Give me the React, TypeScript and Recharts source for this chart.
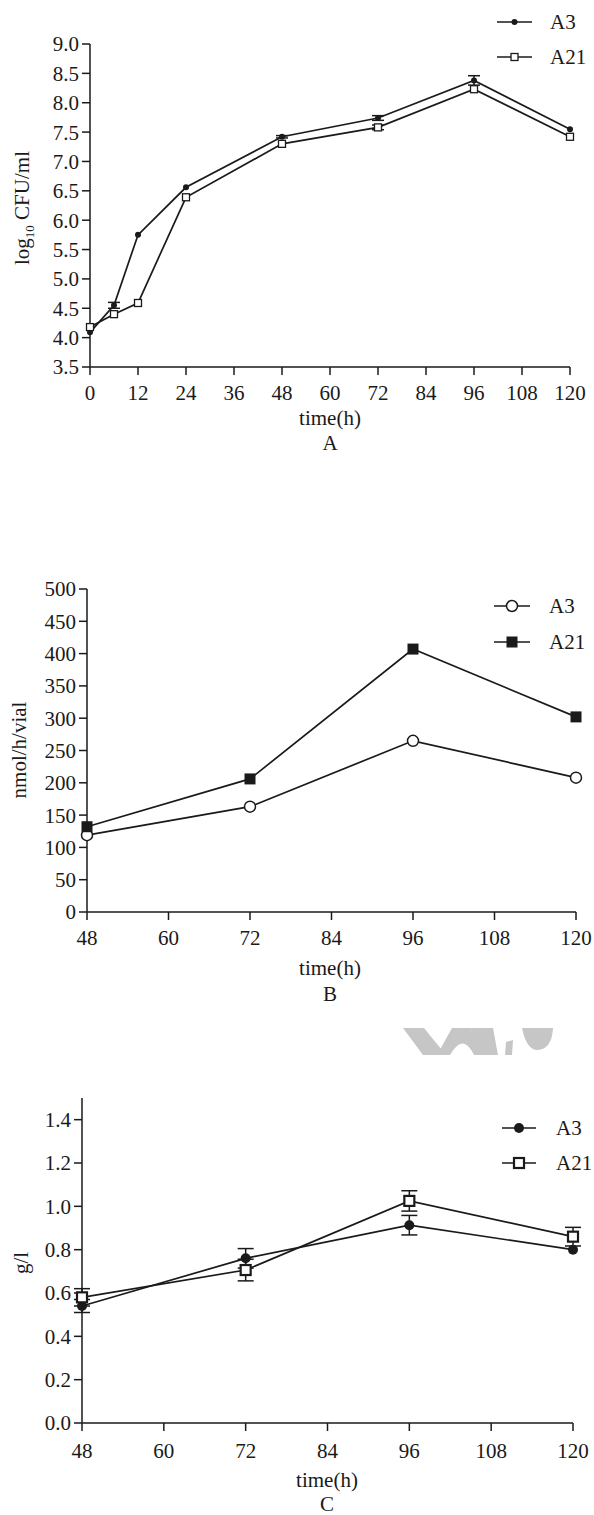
import React from 'react';
import { LineChart, Line, XAxis, YAxis, ErrorBar, Label } from 'recharts';

const FONT = '"Liberation Serif", "Times New Roman", serif';
const INK = '#1a1a1a';
const FS = 21;

// ---------- Chart A data ----------
const timeA = [0, 6, 12, 24, 48, 72, 96, 120];
const a3A = [4.09, 4.55, 5.75, 6.56, 7.42, 7.74, 8.38, 7.55];
const a3AErr = [0, 0.05, 0, 0, 0.02, 0.04, 0.08, 0];
const a21A = [4.18, 4.4, 4.59, 6.39, 7.3, 7.58, 8.23, 7.42];
const a21AErr = [0, 0, 0, 0, 0, 0.04, 0, 0];
const ticksXA = [0, 12, 24, 36, 48, 60, 72, 84, 96, 108, 120];
const ticksYA = [3.5, 4.0, 4.5, 5.0, 5.5, 6.0, 6.5, 7.0, 7.5, 8.0, 8.5, 9.0];

// ---------- Chart B data ----------
const timeB = [48, 72, 96, 120];
const a3B = [119, 163, 265, 208];
const a21B = [132, 206, 407, 302];
const ticksXB = [48, 60, 72, 84, 96, 108, 120];
const ticksYB = [0, 50, 100, 150, 200, 250, 300, 350, 400, 450, 500];

// ---------- Chart C data ----------
const timeC = [48, 72, 96, 120];
const a3C = [0.54, 0.76, 0.913, 0.8];
const a3CErr = [0.03, 0.045, 0.045, 0];
const a21C = [0.58, 0.706, 1.025, 0.86];
const a21CErr = [0.04, 0.05, 0.047, 0.043];
const ticksXC = [48, 60, 72, 84, 96, 108, 120];
const ticksYC = [0, 0.2, 0.4, 0.6, 0.8, 1.0, 1.2, 1.4];

const seriesNames = ['A3', 'A21'];

const dataA = timeA.map((t, i) => ({ t, a3: a3A[i], a3e: a3AErr[i], a21: a21A[i], a21e: a21AErr[i] }));
const dataB = timeB.map((t, i) => ({ t, a3: a3B[i], a21: a21B[i] }));
const dataC = timeC.map((t, i) => ({ t, a3: a3C[i], a3e: a3CErr[i], a21: a21C[i], a21e: a21CErr[i] }));

type Shape = 'dotS' | 'sqS' | 'circO' | 'sqF' | 'dotF' | 'sqO';

const drawShape = (shape: Shape, cx: number, cy: number) => {
  switch (shape) {
    case 'dotS':
      return <circle cx={cx} cy={cy} r={3} fill={INK} />;
    case 'sqS':
      return <rect x={cx - 3.5} y={cy - 3.5} width={7} height={7} fill="#fff" stroke={INK} strokeWidth={1.3} />;
    case 'circO':
      return <circle cx={cx} cy={cy} r={5.5} fill="#fff" stroke={INK} strokeWidth={1.5} />;
    case 'sqF':
      return <rect x={cx - 5.5} y={cy - 5.5} width={11} height={11} fill={INK} />;
    case 'dotF':
      return <circle cx={cx} cy={cy} r={5} fill={INK} />;
    case 'sqO':
      return <rect x={cx - 5} y={cy - 5} width={10} height={10} fill="#fff" stroke={INK} strokeWidth={2.2} />;
  }
  return null;
};

const dotRenderer = (shape: Shape) => (props: any) => {
  const { cx, cy, index } = props;
  if (cx == null || cy == null) return <g key={`${shape}-${index}`} />;
  return <g key={`${shape}-${index}`}>{drawShape(shape, cx, cy)}</g>;
};

const txt = { fontFamily: FONT, fontSize: FS, fill: INK };

type Decor = {
  axisY: number;
  cx: number;
  letter: string;
  d1: number;
  d2: number;
  legX: number;
  legY: number;
  legGap: number;
  legLen: number;
  legText: number;
  s1: Shape;
  s2: Shape;
};

const decorContent = (d: Decor) => () => (
  <g>
    <text x={d.cx} y={d.axisY + d.d1} textAnchor="middle" dy="0.35em" {...txt}>
      time(h)
    </text>
    <text x={d.cx} y={d.axisY + d.d2} textAnchor="middle" dy="0.35em" {...txt}>
      {d.letter}
    </text>
    {[d.s1, d.s2].map((s, i) => {
      const y = d.legY + i * d.legGap;
      return (
        <g key={seriesNames[i]}>
          <line x1={d.legX} x2={d.legX + d.legLen} y1={y} y2={y} stroke={INK} strokeWidth={1.5} />
          {drawShape(s, d.legX + d.legLen / 2, y)}
          <text x={d.legText} y={y} dy="0.35em" {...txt}>
            {seriesNames[i]}
          </text>
        </g>
      );
    })}
  </g>
);

const tickStyle = { fontSize: FS, fontFamily: FONT, fill: INK };
const axisLine = { stroke: INK, strokeWidth: 1.5 };
const tickLine = { stroke: INK, strokeWidth: 1.5 };

const ChartA = () => (
  <LineChart width={594} height={480} data={dataA} margin={{ top: 44, right: 24, left: 30, bottom: 83 }}>
    <XAxis
      dataKey="t"
      type="number"
      domain={[0, 120]}
      ticks={ticksXA}
      interval={0}
      tick={tickStyle}
      tickSize={8}
      tickMargin={10}
      axisLine={axisLine}
      tickLine={tickLine}
      height={30}
    >
      <Label
        content={decorContent({
          axisY: 367, cx: 330, letter: 'A', d1: 51, d2: 76,
          legX: 497, legY: 22, legGap: 35, legLen: 35, legText: 550, s1: 'dotS', s2: 'sqS',
        })}
      />
    </XAxis>
    <YAxis
      type="number"
      domain={[3.5, 9.0]}
      ticks={ticksYA}
      interval={0}
      tickFormatter={(v: number) => v.toFixed(1)}
      tick={tickStyle}
      tickSize={8}
      tickMargin={3}
      axisLine={axisLine}
      tickLine={tickLine}
      width={60}
    >
      <Label
        content={() => (
          <text x={22} y={208} transform="rotate(-90 22 208)" textAnchor="middle" dy="0.35em" {...txt}>
            log
            <tspan fontSize={13} dy="5">10</tspan>
            <tspan dy="-5"> CFU/ml</tspan>
          </text>
        )}
      />
    </YAxis>
    <Line dataKey="a3" stroke={INK} strokeWidth={1.7} isAnimationActive={false} dot={dotRenderer('dotS')} activeDot={false}>
      <ErrorBar dataKey="a3e" width={6} stroke={INK} strokeWidth={1.5} direction="y" />
    </Line>
    <Line dataKey="a21" stroke={INK} strokeWidth={1.7} isAnimationActive={false} dot={dotRenderer('sqS')} activeDot={false}>
      <ErrorBar dataKey="a21e" width={6} stroke={INK} strokeWidth={1.5} direction="y" />
    </Line>
  </LineChart>
);

const ChartB = () => (
  <LineChart width={594} height={540} data={dataB} margin={{ top: 109, right: 18, left: 27, bottom: 78 }}>
    <XAxis
      dataKey="t"
      type="number"
      domain={[48, 120]}
      ticks={ticksXB}
      interval={0}
      tick={tickStyle}
      tickSize={8}
      tickMargin={10}
      axisLine={axisLine}
      tickLine={tickLine}
      height={30}
    >
      <Label
        content={decorContent({
          axisY: 432, cx: 330, letter: 'B', d1: 56, d2: 82,
          legX: 494, legY: 126, legGap: 36, legLen: 36, legText: 549, s1: 'circO', s2: 'sqF',
        })}
      />
    </XAxis>
    <YAxis
      type="number"
      domain={[0, 500]}
      ticks={ticksYB}
      interval={0}
      tick={tickStyle}
      tickSize={8}
      tickMargin={3}
      axisLine={axisLine}
      tickLine={tickLine}
      width={60}
    >
      <Label
        content={() => (
          <text x={19} y={270} transform="rotate(-90 19 270)" textAnchor="middle" dy="0.35em" {...txt}>
            nmol/h/vial
          </text>
        )}
      />
    </YAxis>
    <Line dataKey="a3" stroke={INK} strokeWidth={1.7} isAnimationActive={false} dot={dotRenderer('circO')} activeDot={false} />
    <Line dataKey="a21" stroke={INK} strokeWidth={1.7} isAnimationActive={false} dot={dotRenderer('sqF')} activeDot={false} />
  </LineChart>
);

const ChartC = () => (
  <LineChart width={594} height={515} data={dataC} margin={{ top: 98, right: 21, left: 22, bottom: 62 }}>
    <XAxis
      dataKey="t"
      type="number"
      domain={[48, 120]}
      ticks={ticksXC}
      interval={0}
      tick={tickStyle}
      tickSize={8}
      tickMargin={12}
      axisLine={axisLine}
      tickLine={tickLine}
      height={30}
    >
      <Label
        content={decorContent({
          axisY: 423, cx: 327, letter: 'C', d1: 57, d2: 81,
          legX: 502, legY: 128, legGap: 35, legLen: 34, legText: 556, s1: 'dotF', s2: 'sqO',
        })}
      />
    </XAxis>
    <YAxis
      type="number"
      domain={[0, 1.5]}
      ticks={ticksYC}
      interval={0}
      tickFormatter={(v: number) => v.toFixed(1)}
      tick={tickStyle}
      tickSize={8}
      tickMargin={3}
      axisLine={axisLine}
      tickLine={tickLine}
      width={60}
    >
      <Label
        content={() => (
          <text x={21} y={263} transform="rotate(-90 21 263)" textAnchor="middle" dy="0.35em" {...txt}>
            g/l
          </text>
        )}
      />
    </YAxis>
    <Line dataKey="a3" stroke={INK} strokeWidth={1.7} isAnimationActive={false} dot={dotRenderer('dotF')} activeDot={false}>
      <ErrorBar dataKey="a3e" width={8} stroke={INK} strokeWidth={1.5} direction="y" />
    </Line>
    <Line dataKey="a21" stroke={INK} strokeWidth={1.7} isAnimationActive={false} dot={dotRenderer('sqO')} activeDot={false}>
      <ErrorBar dataKey="a21e" width={8} stroke={INK} strokeWidth={1.5} direction="y" />
    </Line>
  </LineChart>
);

const Watermark = () => (
  <svg width={594} height={40} style={{ position: 'absolute', left: 0, top: 1022 }}>
    <g fill="#c6c6c6">
      <polygon points="403,6 424,6 446,33 423,33" />
      <path d="M437,33 L452,6 L470,6 L486,33 L474,33 Q463,10 450,33 Z" />
      <polygon points="470,6 493,6 498,33 484,33" />
      <polygon points="506,20 513,18 512,33 505,33" />
      <path d="M522,6 L553,6 Q552,28 536,28 Q526,26 522,6 Z" />
    </g>
  </svg>
);

export default function App() {
  return (
    <div style={{ position: 'absolute', left: 0, top: 0, width: 594, height: 1515, background: '#fff', overflow: 'hidden' }}>
      <div style={{ position: 'absolute', left: 0, top: 0 }}>
        <ChartA />
      </div>
      <div style={{ position: 'absolute', left: 0, top: 480 }}>
        <ChartB />
      </div>
      <Watermark />
      <div style={{ position: 'absolute', left: 0, top: 1000 }}>
        <ChartC />
      </div>
    </div>
  );
}
